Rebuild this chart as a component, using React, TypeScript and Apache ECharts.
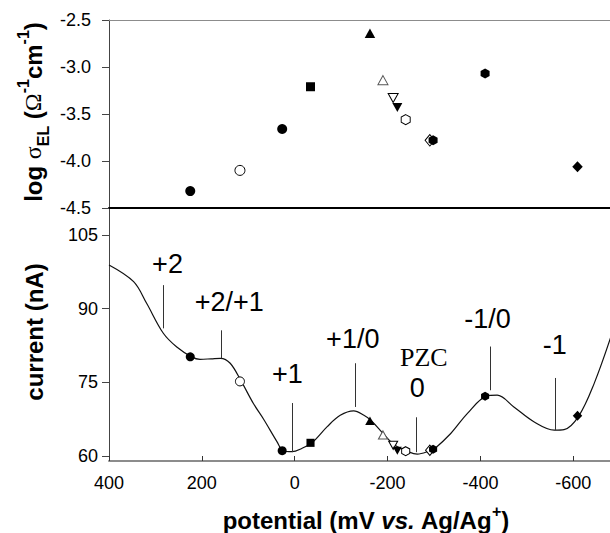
import { useEffect, useRef } from "react";
import * as echarts from "echarts";

// Stripping voltammogram: current (nA) against potential (mV vs. Ag/Ag+)
const curvePotential = [
  400, 347, 319, 283, 254, 222, 204, 180, 160, 139,
  115, 89, 67, 38, 25, 6, -16, -37, -70, -98,
  -127, -149, -165, -193, -216, -242, -264, -292, -300, -336,
  -372, -413, -436, -472, -515, -559, -580, -612, -645, -681,
];
const curveCurrent = [
  98.9, 95.5, 91.1, 85.0, 82.2, 80.2, 79.7, 79.8, 79.9, 78.9,
  75.2, 70.7, 67.5, 62.9, 61.1, 60.9, 61.6, 62.7, 66.0, 68.3,
  69.2, 68.3, 67.2, 64.3, 62.2, 61.0, 60.4, 61.1, 61.4, 64.6,
  68.7, 72.2, 72.4, 70.0, 67.0, 65.3, 65.4, 68.2, 74.8, 84.3,
];

// Measured points: electrode potential, log conductivity, and current on the voltammogram
const markerKinds = [
  "disc", "ring", "disc", "square", "triangle", "triangleOpen", "invTriangleOpen",
  "invTriangle", "hexOpen", "diamondOpen", "hex", "hex", "diamond",
];
const markerPotential = [225, 118, 27, -34, -162, -190, -212, -221, -239, -291, -298, -410, -609];
const markerLogSigma = [-4.32, -4.1, -3.66, -3.21, -2.64, -3.14, -3.33, -3.43, -3.56, -3.78, -3.78, -3.07, -4.06];
const markerCurrent = [80.2, 75.2, 61.1, 62.7, 67.2, 64.3, 62.2, 61.1, 61.0, 61.2, 61.4, 72.2, 68.2];

// Charge-state annotations
const annLabels = ["+2", "+2/+1", "+1", "+1/0", "PZC", "0", "-1/0", "-1"];
const annLabelPotential = [274, 141, 16, -125, -278, -264, -415, -560];
const annLabelCurrent = [99.0, 91.3, 76.7, 83.8, 80.0, 73.9, 88.0, 82.6];

const annLinePotential = [283, 158, 6, -130, -261, -422, -561];
const annLineTop = [94.8, 85.6, 70.8, 78.9, 67.9, 82.3, 75.9];
const annLineBottom = [86.0, 79.9, 60.8, 70.0, 60.8, 73.4, 65.3];

// Axis ticks
const potentialTicks = [400, 200, 0, -200, -400, -600];
const currentTicks = [60, 75, 90, 105];
const logSigmaRange = [-4.5, -2.5];
const currentRange = [59, 110.5];
const potentialRange = [-679, 400];

const SANS = "'Liberation Sans', Arial, Helvetica, sans-serif";
const SERIF = "'Liberation Serif', 'Times New Roman', serif";

const HEX = "path://M0,-10L8.66,-5L8.66,5L0,10L-8.66,5L-8.66,-5Z";

function markerItem(kind: string, size: number) {
  const filled = { color: "#000", opacity: 1 };
  const hollow = (c = "#000") => ({ color: "#fff", borderColor: c, borderWidth: 1, opacity: 1 });
  switch (kind) {
    case "disc":
      return { symbol: "circle", symbolSize: size, itemStyle: filled };
    case "ring":
      return { symbol: "circle", symbolSize: size, itemStyle: hollow() };
    case "square":
      return { symbol: "rect", symbolSize: size * 0.9, itemStyle: filled };
    case "triangle":
      return { symbol: "triangle", symbolSize: [size * 1.05, size * 0.95], itemStyle: filled };
    case "triangleOpen":
      return { symbol: "triangle", symbolSize: [size, size * 0.9], itemStyle: hollow("#555") };
    case "invTriangleOpen":
      return { symbol: "triangle", symbolRotate: 180, symbolSize: [size, size * 0.9], itemStyle: hollow() };
    case "invTriangle":
      return { symbol: "triangle", symbolRotate: 180, symbolSize: [size, size * 0.9], itemStyle: filled };
    case "hexOpen":
      return { symbol: HEX, symbolSize: [size * 0.9, size], itemStyle: hollow() };
    case "diamondOpen":
      return { symbol: "diamond", symbolSize: [size * 0.95, size * 1.15], itemStyle: hollow() };
    case "hex":
      return { symbol: HEX, symbolSize: [size * 0.9, size], itemStyle: filled };
    default:
      return { symbol: "diamond", symbolSize: [size * 1.05, size * 1.1], itemStyle: filled };
  }
}

function buildOption() {
  const xBase = {
    type: "value" as const,
    inverse: true,
    min: potentialRange[0],
    max: potentialRange[1],
    splitLine: { show: false },
  };
  const tickText = { fontFamily: SANS, fontSize: 18, color: "#000" };

  return {
    animation: false,
    backgroundColor: "#fff",
    grid: [
      { left: 109, right: 0, top: 20, height: 188 },
      { left: 109, right: 0, top: 208, height: 253 },
    ],
    xAxis: [
      {
        ...xBase,
        gridIndex: 0,
        position: "bottom",
        axisLine: { onZero: false, lineStyle: { color: "#000", width: 2 } },
        axisTick: { show: false },
        axisLabel: { show: false },
      },
      {
        ...xBase,
        gridIndex: 0,
        position: "top",
        axisLine: { onZero: false, lineStyle: { color: "#8c8c8c", width: 1 } },
        axisTick: { show: false },
        axisLabel: { show: false },
      },
      {
        ...xBase,
        gridIndex: 1,
        position: "bottom",
        axisLine: { onZero: false, lineStyle: { color: "#8c8c8c", width: 2 } },
        axisTick: {
          show: true,
          inside: true,
          length: 5,
          customValues: potentialTicks,
          lineStyle: { color: "#333", width: 1 },
        },
        axisLabel: { ...tickText, margin: 13, customValues: potentialTicks },
      },
    ],
    yAxis: [
      {
        type: "value",
        gridIndex: 0,
        min: logSigmaRange[0],
        max: logSigmaRange[1],
        interval: 0.5,
        splitLine: { show: false },
        axisLine: { show: true, onZero: false, lineStyle: { color: "#444", width: 1 } },
        axisTick: { show: true, length: 7, lineStyle: { color: "#444" } },
        axisLabel: { ...tickText, margin: 18, formatter: (v: number) => v.toFixed(1) },
      },
      {
        type: "value",
        gridIndex: 1,
        min: currentRange[0],
        max: currentRange[1],
        splitLine: { show: false },
        axisLine: { show: true, onZero: false, lineStyle: { color: "#444", width: 1 } },
        axisTick: { show: true, length: 7, customValues: currentTicks, lineStyle: { color: "#444" } },
        axisLabel: { ...tickText, margin: 11, customValues: currentTicks },
      },
    ],
    series: [
      {
        type: "line",
        xAxisIndex: 2,
        yAxisIndex: 1,
        data: curvePotential.map((p, i) => [p, curveCurrent[i]]),
        showSymbol: false,
        smooth: 0.35,
        lineStyle: { color: "#111", width: 1.2 },
        silent: true,
        z: 2,
        markLine: {
          silent: true,
          symbol: ["none", "none"],
          label: { show: false },
          lineStyle: { color: "#333", width: 1, type: "solid" },
          data: annLinePotential.map((p, i) => [
            { coord: [p, annLineTop[i]] },
            { coord: [p, annLineBottom[i]] },
          ]),
        },
      },
      {
        type: "scatter",
        xAxisIndex: 0,
        yAxisIndex: 0,
        silent: true,
        z: 4,
        itemStyle: { opacity: 1 },
        data: markerPotential.map((p, i) => ({
          value: [p, markerLogSigma[i]],
          ...markerItem(markerKinds[i], 10),
        })),
      },
      {
        type: "scatter",
        xAxisIndex: 2,
        yAxisIndex: 1,
        silent: true,
        z: 4,
        itemStyle: { opacity: 1 },
        data: markerPotential.map((p, i) => ({
          value: [p, markerCurrent[i]],
          ...markerItem(markerKinds[i], 9),
        })),
      },
      {
        type: "scatter",
        xAxisIndex: 2,
        yAxisIndex: 1,
        silent: true,
        symbol: "circle",
        symbolSize: 1,
        itemStyle: { color: "rgba(0,0,0,0)", opacity: 1 },
        z: 5,
        label: {
          show: true,
          position: "inside",
          formatter: (p: any) => p.name,
          fontFamily: SANS,
          fontSize: 27,
          lineHeight: 23,
          color: "#000",
          textBorderWidth: 0,
        },
        data: annLabels.map((t, i) => ({
          name: t,
          value: [annLabelPotential[i], annLabelCurrent[i]],
          label: t === "PZC" ? { fontFamily: SERIF, fontSize: 26, lineHeight: 22 } : undefined,
        })),
      },
    ],
    graphic: [
      {
        type: "text",
        x: 33,
        y: 112,
        rotation: Math.PI / 2,
        style: {
          text: "{b|log }{g|σ}{sub|EL}{b| (}{g|Ω}{sup|-1}{b|cm}{sup|-1}{b|)}",
          align: "center",
          verticalAlign: "middle",
          fill: "#000",
          rich: {
            b: { fontFamily: SANS, fontWeight: "bold", fontSize: 24, lineHeight: 36, verticalAlign: "middle", fill: "#000" },
            g: { fontFamily: SERIF, fontSize: 24, lineHeight: 36, verticalAlign: "middle", fill: "#000" },
            sub: { fontFamily: SANS, fontWeight: "bold", fontSize: 16, lineHeight: 26, verticalAlign: "bottom", fill: "#000" },
            sup: { fontFamily: SANS, fontWeight: "bold", fontSize: 16, lineHeight: 12, verticalAlign: "top", fill: "#000" },
          },
        },
      },
      {
        type: "text",
        x: 34,
        y: 332,
        rotation: Math.PI / 2,
        style: {
          text: "current (nA)",
          align: "center",
          verticalAlign: "middle",
          fontFamily: SANS,
          fontWeight: "bold",
          fontSize: 24,
          fill: "#000",
        },
      },
      {
        type: "text",
        x: 366,
        y: 520,
        style: {
          text: "{b|potential (mV }{i|vs.}{b| Ag/Ag}{sup|+}{b|)}",
          align: "center",
          verticalAlign: "middle",
          fill: "#000",
          rich: {
            b: { fontFamily: SANS, fontWeight: "bold", fontSize: 24, lineHeight: 34, verticalAlign: "middle", fill: "#000" },
            i: { fontFamily: SANS, fontWeight: "bold", fontStyle: "italic", fontSize: 24, lineHeight: 34, verticalAlign: "middle", fill: "#000" },
            sup: { fontFamily: SANS, fontWeight: "bold", fontSize: 16, lineHeight: 12, verticalAlign: "top", fill: "#000" },
          },
        },
      },
    ],
  };
}

export default function App() {
  const ref = useRef<HTMLDivElement>(null);
  useEffect(() => {
    document.body.style.margin = "0";
    const chart = echarts.init(ref.current!, null, { renderer: "svg" });
    chart.setOption(buildOption() as any);
    return () => chart.dispose();
  }, []);
  return <div ref={ref} style={{ width: 610, height: 533 }} />;
}
